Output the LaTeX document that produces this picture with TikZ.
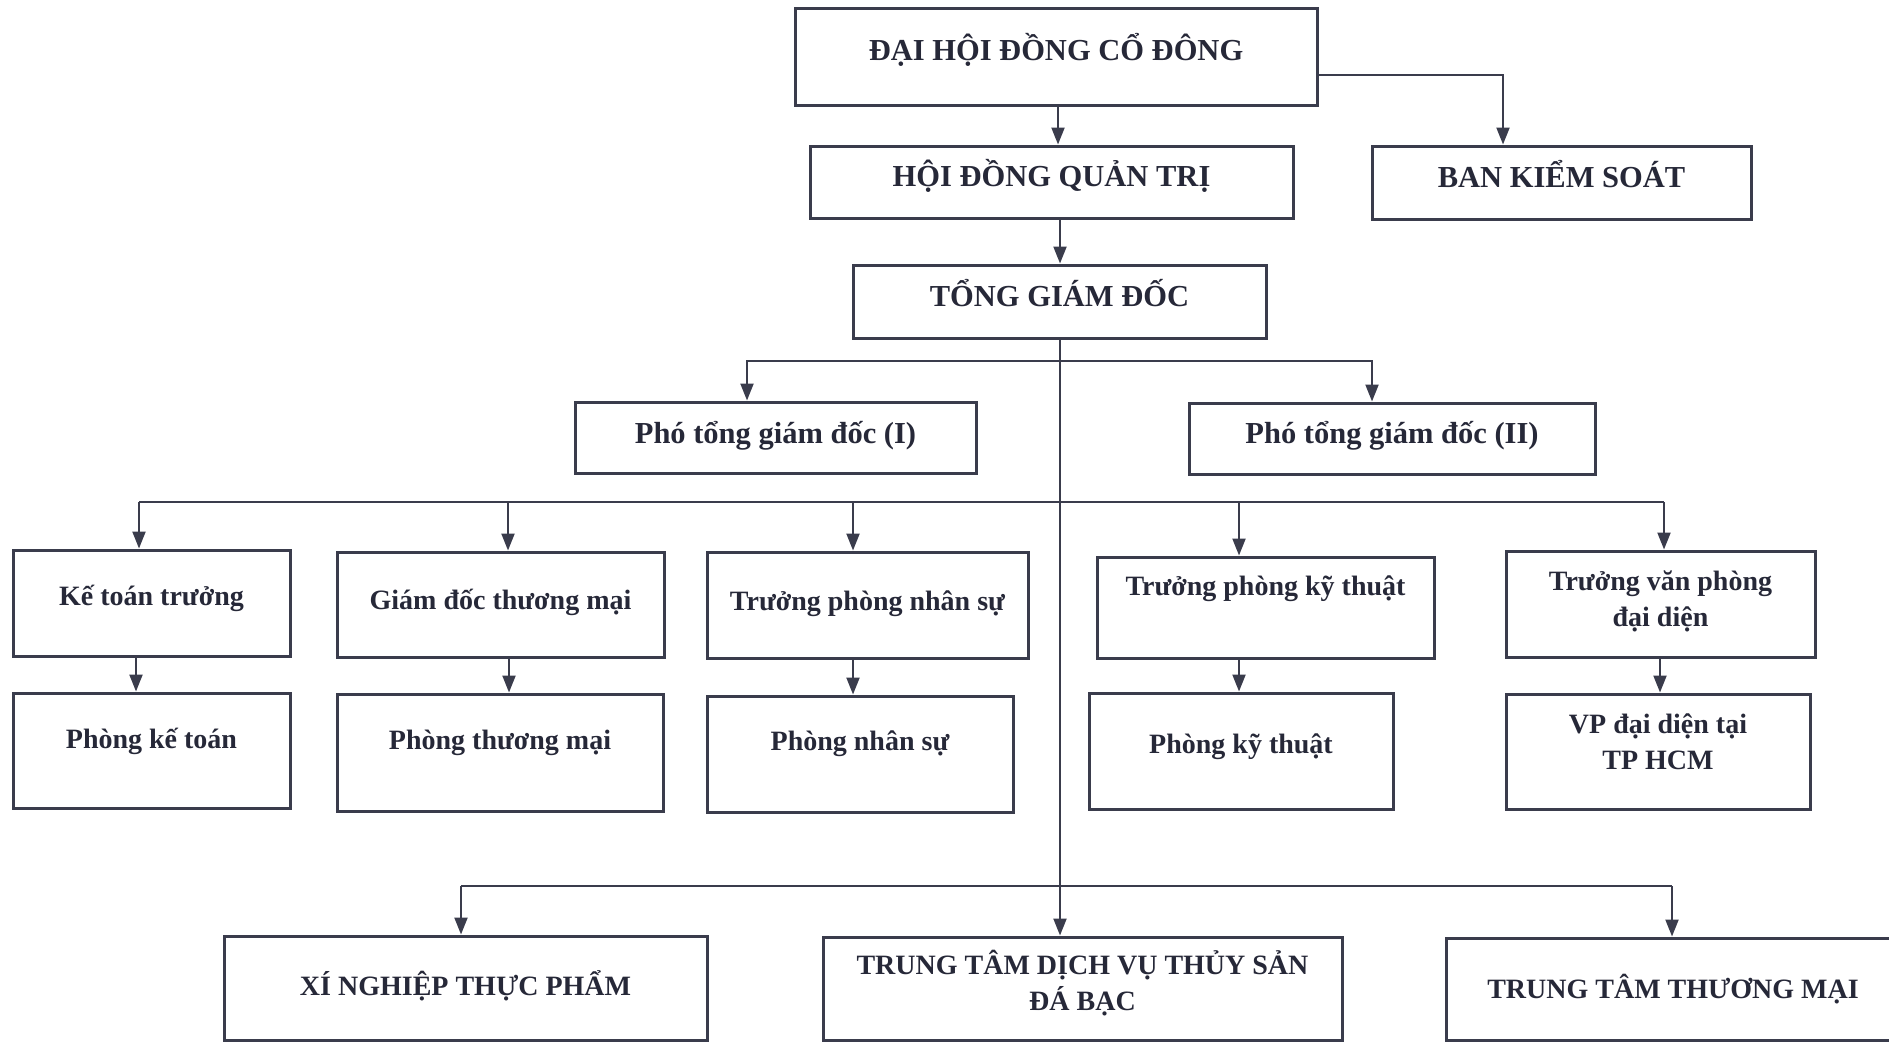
\documentclass[tikz,border=0pt]{standalone}
\usepackage{fontspec}
\setmainfont{Liberation Serif}
\usetikzlibrary{arrows.meta}
\definecolor{lc}{RGB}{58,60,76}
\definecolor{tc}{RGB}{38,40,56}
\begin{document}
\begin{tikzpicture}[x=1pt,y=-1pt,
  box/.style={draw=lc,line width=3pt,text=tc,inner sep=0pt},
  big/.style={font=\bfseries\fontsize{30.5}{36}\selectfont,text height=21pt},
  small/.style={font=\bfseries\fontsize{28}{36}\selectfont,text height=19pt},
  dp/.style={text depth=#1pt},
  ln/.style={draw=lc,line width=2.2pt},
  arr/.style={ln,-{Triangle[length=17pt,width=13pt]}}]
\useasboundingbox (0,0) rectangle (1889,1042);
\clip (0,0) rectangle (1889,1042);
% top levels
\node[box,big,dp=13,minimum width=522pt,minimum height=97pt] (dh) at (1056,56.5) {ĐẠI HỘI ĐỒNG CỔ ĐÔNG};
\node[box,big,dp=13,minimum width=483pt,minimum height=72pt] (hd) at (1051.5,182) {HỘI ĐỒNG QUẢN TRỊ};
\node[box,big,dp=11,minimum width=379pt,minimum height=73pt] (bks) at (1561.5,182.5) {BAN KIỂM SOÁT};
\node[box,big,text height=23pt,dp=13,minimum width=413pt,minimum height=73pt] (tgd) at (1059.5,301.5) {TỔNG GIÁM ĐỐC};
\node[box,big,dp=10,minimum width=401pt,minimum height=71pt] (p1) at (775.5,437.5) {Phó tổng giám đốc (I)};
\node[box,big,dp=12,minimum width=406pt,minimum height=71pt] (p2) at (1392,438.5) {Phó tổng giám đốc (II)};
% row 3
\node[box,small,dp=15,minimum width=277pt,minimum height=106pt] (kt) at (151.5,603) {Kế toán trưởng};
\node[box,small,dp=9,minimum width=327pt,minimum height=105pt] (gdtm) at (500.5,604.5) {Giám đốc thương mại};
\node[box,small,dp=8,minimum width=321pt,minimum height=106pt] (tpns) at (867.5,605) {Trưởng phòng nhân sự};
\node[box,small,dp=44,minimum width=337pt,minimum height=101pt] (tpkt) at (1265.5,607.5) {Trưởng phòng kỹ thuật};
\node[box,small,align=center,text height=60pt,dp=16,minimum width=309pt,minimum height=106pt] (tvp) at (1660.5,604) {Trưởng văn phòng\\đại diện};
% row 4
\node[box,small,dp=23,minimum width=277pt,minimum height=115pt] (pkt) at (151.5,750.5) {Phòng kế toán};
\node[box,small,dp=25,minimum width=326pt,minimum height=117pt] (ptm) at (500,752.5) {Phòng thương mại};
\node[box,small,dp=26,minimum width=306pt,minimum height=116pt] (pns) at (860,754) {Phòng nhân sự};
\node[box,small,dp=15,minimum width=304pt,minimum height=116pt] (pkth) at (1241,751) {Phòng kỹ thuật};
\node[box,small,align=center,text height=60pt,dp=25,minimum width=304pt,minimum height=115pt] (vp) at (1658,751.5) {VP đại diện tại\\TP HCM};
% row 5
\node[box,small,dp=4.5,minimum width=483pt,minimum height=104pt] (xn) at (465.5,988) {XÍ NGHIỆP THỰC PHẨM};
\node[box,small,align=center,text height=60pt,dp=16,minimum width=519pt,minimum height=103pt] (ttdv) at (1082.5,988.5) {TRUNG TÂM DỊCH VỤ THỦY SẢN\\ĐÁ BẠC};
\node[box,small,text height=30pt,dp=11.5,minimum width=454pt,minimum height=102pt] (tttm) at (1673,989) {TRUNG TÂM THƯƠNG MẠI};
% helper coordinates
\coordinate (x1) at (1058,0);
\coordinate (x2) at (1060,0);
\coordinate (kb) at (1503,75);
\coordinate (pb) at (0,361);
\coordinate (pl) at (747,0);
\coordinate (pr) at (1372,0);
\coordinate (db) at (0,502);
\coordinate (c1) at (139,0);
\coordinate (c2) at (508,0);
\coordinate (c3) at (853,0);
\coordinate (c4) at (1239,0);
\coordinate (c5) at (1664,0);
\coordinate (e1) at (136,0);
\coordinate (e2) at (509,0);
\coordinate (e3) at (853,0);
\coordinate (e4) at (1239,0);
\coordinate (e5) at (1660,0);
\coordinate (bb) at (0,886);
\coordinate (bl) at (461,0);
\coordinate (br) at (1672,0);
% connectors
\draw[arr] (dh.south -| x1) -- (hd.north -| x1);
\draw[arr] (dh.east |- kb) -| (bks.north -| kb);
\draw[arr] (hd.south -| x2) -- (tgd.north -| x2);
\draw[arr] (tgd.south -| x2) -- (ttdv.north -| x2);
\draw[arr] (pb -| x2) -| (p1.north -| pl);
\draw[arr] (pb -| x2) -| (p2.north -| pr);
\draw[ln] (db -| c1) -- (db -| c5);
\draw[arr] (db -| c1) -- (kt.north -| c1);
\draw[arr] (db -| c2) -- (gdtm.north -| c2);
\draw[arr] (db -| c3) -- (tpns.north -| c3);
\draw[arr] (db -| c4) -- (tpkt.north -| c4);
\draw[arr] (db -| c5) -- (tvp.north -| c5);
\draw[arr] (kt.south -| e1) -- (pkt.north -| e1);
\draw[arr] (gdtm.south -| e2) -- (ptm.north -| e2);
\draw[arr] (tpns.south -| e3) -- (pns.north -| e3);
\draw[arr] (tpkt.south -| e4) -- (pkth.north -| e4);
\draw[arr] (tvp.south -| e5) -- (vp.north -| e5);
\draw[ln] (bb -| bl) -- (bb -| br);
\draw[arr] (bb -| bl) -- (xn.north -| bl);
\draw[arr] (bb -| br) -- (tttm.north -| br);
\end{tikzpicture}
\end{document}
